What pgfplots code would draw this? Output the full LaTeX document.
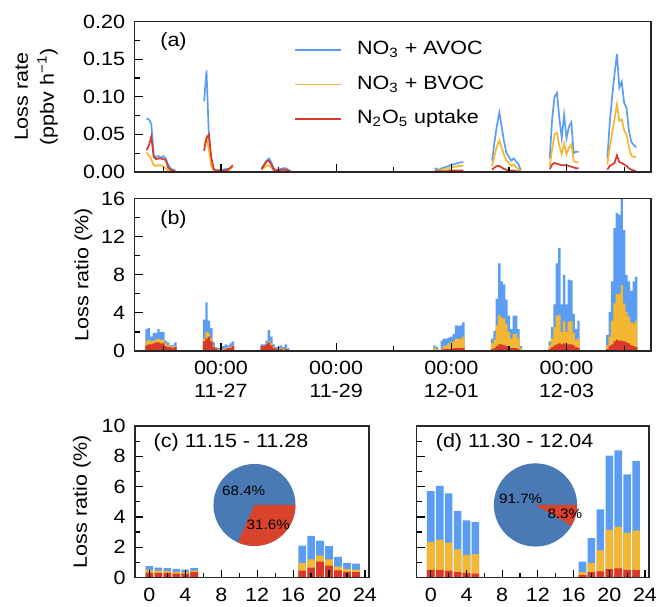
\documentclass[border=0pt]{standalone}
\usepackage{fontspec}
\setmainfont{Liberation Sans}[FakeStretch=1.12]
\usepackage{pgfplots}
\usepackage{pgfplotstable}
\pgfplotsset{compat=1.18}
\definecolor{cblue}{HTML}{5B9DF2}
\definecolor{cyell}{HTML}{F4B731}
\definecolor{cred}{HTML}{D8392A}
\definecolor{pblue}{HTML}{4A7AB5}
\definecolor{pred}{HTML}{D9422B}

% (a) loss rates, ppbv/h ; h = hours since 11-25 00:00
\pgfplotstableread{
h blue yellow red
17 0.071 0.026 0.029
18 0.070 0.022 0.035
19 0.064 0.017 0.047
20 0.022 0.009 0.020
21 0.020 0.008 0.017
22 0.021 0.009 0.018
23 0.019 0.009 0.018
24 0.021 0.007 0.017
25 0.018 0.005 0.016
26 0.010 0.002 0.006
27 0.005 0.001 0.003
28 0.003 0.001 0.002
29 0.002 0.001 0.001
nan nan nan nan
41 0.094 0.035 0.028
42 0.135 0.045 0.045
43 0.045 0.030 0.050
44 0.010 0.008 0.020
45 0.004 0.002 0.004
46 0.002 0.001 0.002
47 0.002 0.001 0.002
48 0.003 0.001 0.002
49 0.003 0.001 0.002
50 0.004 0.002 0.002
51 0.004 0.002 0.003
52 0.005 0.004 0.006
53 0.007 0.008 0.009
nan nan nan nan
65 0.005 0.003 0.004
66 0.010 0.006 0.009
67 0.015 0.008 0.014
68 0.018 0.009 0.015
69 0.013 0.006 0.010
70 0.005 0.002 0.003
71 0.003 0.001 0.002
72 0.003 0.001 0.002
73 0.004 0.001 0.003
74 0.005 0.001 0.003
75 0.005 0.001 0.003
76 0.003 0.001 0.002
77 0.001 0.000 0.001
nan nan nan nan
137 0.005 0.002 0.001
138 0.004 0.002 0.001
139 0.003 0.002 0.001
140 0.005 0.003 0.001
141 0.006 0.004 0.001
142 0.007 0.005 0.001
143 0.008 0.005 0.002
144 0.010 0.006 0.002
145 0.010 0.007 0.002
146 0.011 0.007 0.002
147 0.012 0.008 0.002
148 0.013 0.008 0.002
149 0.013 0.009 0.002
nan nan nan nan
161 0.015 0.008 0.003
162 0.040 0.022 0.006
163 0.062 0.034 0.008
164 0.079 0.042 0.008
165 0.060 0.032 0.006
166 0.040 0.022 0.004
167 0.025 0.015 0.003
168 0.020 0.012 0.002
169 0.015 0.008 0.002
170 0.018 0.010 0.002
171 0.014 0.006 0.001
172 0.010 0.004 0.001
173 0.002 0.001 0.000
nan nan nan nan
185 0.018 0.008 0.004
186 0.070 0.030 0.010
187 0.100 0.050 0.012
188 0.105 0.052 0.011
189 0.072 0.035 0.010
190 0.045 0.024 0.009
191 0.076 0.038 0.009
192 0.045 0.024 0.009
193 0.060 0.032 0.008
194 0.066 0.037 0.007
195 0.025 0.015 0.006
196 0.027 0.013 0.005
197 0.027 0.013 0.005
nan nan nan nan
209 0.018 0.010 0.003
210 0.065 0.032 0.008
211 0.100 0.052 0.010
212 0.130 0.070 0.012
213 0.157 0.090 0.022
214 0.112 0.068 0.013
215 0.120 0.070 0.012
216 0.092 0.055 0.010
217 0.085 0.050 0.008
218 0.055 0.033 0.005
219 0.040 0.022 0.003
220 0.036 0.020 0.002
221 0.033 0.020 0.001
}\ratea

% (b) loss ratio (%), cumulative tops: blue = total, yellow = BVOC+N2O5, red = N2O5
\pgfplotstableread{
h blue yellow red
17 2.3 1.0 0.6
18 2.4 1.2 0.7
19 1.5 1.0 0.7
20 1.9 1.1 0.8
21 1.9 1.2 0.9
22 2.3 1.3 0.9
23 2.0 1.2 0.8
24 2.0 1.2 0.8
25 1.1 0.8 0.5
26 0.9 0.6 0.4
27 0.6 0.5 0.4
28 0.6 0.4 0.3
29 0.9 0.5 0.4
41 3.3 1.3 1.0
42 5.1 2.0 1.3
43 3.2 1.9 1.5
44 2.4 1.3 1.0
45 0.9 0.5 0.4
46 0.4 0.2 0.2
47 0.3 0.2 0.1
48 0.3 0.2 0.1
49 0.5 0.2 0.1
50 0.7 0.3 0.2
51 0.6 0.4 0.3
52 0.8 0.4 0.3
53 1.0 0.6 0.5
65 0.7 0.5 0.5
66 0.7 0.5 0.5
67 1.1 0.8 0.7
68 2.2 1.1 0.9
69 1.5 0.8 0.6
70 0.7 0.4 0.3
71 0.4 0.2 0.2
72 0.4 0.2 0.1
73 0.6 0.3 0.2
74 0.4 0.2 0.1
75 0.7 0.3 0.2
76 0.3 0.1 0.1
77 0.1 0.05 0.02
137 0.6 0.3 0.1
138 0.4 0.2 0.05
139 0.15 0.05 0.02
140 1.1 0.2 0.1
141 1.3 0.5 0.2
142 1.3 0.6 0.2
143 1.4 0.8 0.2
144 1.5 0.9 0.2
145 1.8 1.0 0.3
146 2.7 1.3 0.3
147 2.6 1.3 0.3
148 2.7 1.3 0.3
149 3.0 1.5 0.3
161 1.3 0.8 0.2
162 2.1 1.2 0.3
163 5.5 2.7 0.5
164 9.2 3.8 0.7
165 7.3 3.5 0.7
166 7.0 3.4 0.6
167 5.4 2.8 0.5
168 3.7 2.0 0.4
169 2.3 1.3 0.3
170 3.7 1.8 0.3
171 3.7 1.8 0.3
172 2.3 1.3 0.2
173 0.5 0.3 0.1
185 1.0 0.6 0.2
186 2.5 1.3 0.4
187 4.9 2.5 0.6
188 9.2 3.7 0.7
189 10.8 3.8 0.8
190 4.9 2.0 0.7
191 8.0 3.1 0.8
192 4.9 2.0 0.7
193 7.5 3.1 0.7
194 7.4 3.1 0.7
195 3.9 1.9 0.6
196 2.3 1.2 0.4
197 3.2 1.3 0.3
209 1.7 0.6 0.2
210 4.1 1.5 0.5
211 7.3 3.2 0.7
212 12.9 5.0 1.0
213 14.5 6.0 1.2
214 14.3 6.0 1.1
215 16.0 6.9 1.1
216 12.7 5.0 1.0
217 8.0 4.1 0.9
218 7.3 3.6 0.8
219 6.3 3.0 0.6
220 7.3 2.9 0.5
221 7.8 3.2 0.4
}\ratiob

% (c) 11.15 - 11.28 diurnal loss ratio (%), cumulative tops
\pgfplotstableread{
h blue yellow red
0 0.75 0.50 0.33
1 0.65 0.45 0.30
2 0.62 0.42 0.30
3 0.57 0.38 0.25
4 0.52 0.35 0.25
5 0.62 0.45 0.35
17 2.10 0.95 0.46
18 2.75 1.20 0.65
19 2.44 1.45 1.05
20 2.08 1.20 0.78
21 1.37 0.72 0.47
22 0.97 0.57 0.37
23 0.92 0.52 0.35
}\diurc

% (d) 11.30 - 12.04 diurnal loss ratio (%), cumulative tops
\pgfplotstableread{
h blue yellow red
0 5.70 2.35 0.50
1 6.05 2.50 0.50
2 5.55 2.30 0.45
3 4.40 1.85 0.35
4 3.78 1.50 0.30
5 3.65 1.55 0.25
17 1.05 0.35 0.15
18 2.60 0.95 0.35
19 4.50 1.80 0.40
20 8.05 3.15 0.55
21 8.40 3.35 0.60
22 6.80 2.95 0.50
23 7.70 3.10 0.50
}\diurd

\pgfplotsset{
  myax/.style={
    scale only axis,
    anchor=north west,
    axis line style={black!85, line width=0.6pt},
    every tick/.style={black, line width=0.6pt},
    tick align=inside,
    major tick length=4pt,
    minor tick length=2.5pt,
    xtick pos=lower, ytick pos=left,
    ymin=0,
    axis on top,
    /pgf/number format/assume math mode=true,
    yticklabel style={inner sep=0pt, xshift=-4.5pt},
    xticklabel style={inner sep=0pt, yshift=-5pt},
    every axis y label/.style={rotate=90, anchor=center},
  },
  timeax/.style={myax, width=258.25pt, xmin=12, xmax=227.2,
    xtick={48,96,144,192}, minor xtick={24,72,120,168,216}},
  diurax/.style={myax, height=75.75pt, xmin=-1.6, xmax=24.45, ymax=10,
    xtick={0,4,...,24}, minor xtick={2,6,...,22},
    ytick={0,2,...,10}, minor ytick={1,3,...,9}},
  barb/.style={ybar, bar width=1, bar shift=0pt, draw=none},
  barc/.style={ybar, bar width=0.85, bar shift=0pt, draw=none},
}

\begin{document}
\fontsize{9.6}{11}\selectfont
\begin{tikzpicture}
\useasboundingbox (0,0) rectangle (328pt,-303pt);

% ---------- (a) ----------
\begin{axis}[timeax, at={(67.25pt,-10.75pt)}, height=75.25pt,
  ymax=0.2, ytick={0,0.05,0.1,0.15,0.2}, minor ytick={0.025,0.075,0.125,0.175},
  yticklabel style={/pgf/number format/.cd, fixed, fixed zerofill, precision=2},
  xticklabels={},
  unbounded coords=jump,
  ylabel={Loss rate\\[2pt](ppbv h\textsuperscript{−1})},
  ylabel style={align=center, at={(axis description cs:-0.19,0.5)}},
  legend style={at={(0.309,0.892)}, anchor=north west, draw=none, fill=none,
    inner sep=0pt, row sep=5.7pt,
    nodes={inner sep=1pt, text height=0.75em, text depth=0.25em},
    /tikz/every odd column/.append style={column sep=6.5pt}},
  legend cell align=left,
  legend image code/.code={\draw[#1] (0pt,0pt) -- (23pt,0pt);},
]
\addplot[cblue, line width=0.85pt] table[x=h, y=blue] {\ratea};
\addlegendentry{NO\textsubscript{3} + AVOC}
\addplot[cyell, line width=0.85pt] table[x=h, y=yellow] {\ratea};
\addlegendentry{NO\textsubscript{3} + BVOC}
\addplot[cred, line width=0.85pt] table[x=h, y=red] {\ratea};
\addlegendentry{N\textsubscript{2}O\textsubscript{5} uptake}
\node at (axis description cs:0.0755,0.864) {(a)};
\end{axis}

% ---------- (b) ----------
\begin{axis}[timeax, at={(67.25pt,-99.25pt)}, height=76.25pt,
  ymax=16, ytick={0,4,...,16}, minor ytick={2,6,10,14},
  xticklabels={{00:00\\[1pt]11-27},{00:00\\[1pt]11-29},{00:00\\[1pt]12-01},{00:00\\[1pt]12-03}},
  xticklabel style={align=center, font=\fontsize{9.6}{10.5}\selectfont},
  ylabel={Loss ratio (\%)},
  ylabel style={at={(axis description cs:-0.0987,0.5)}},
]
\addplot[barb, fill=cblue] table[x=h, y=blue] {\ratiob};
\addplot[barb, fill=cyell] table[x=h, y=yellow] {\ratiob};
\addplot[barb, fill=cred] table[x=h, y=red] {\ratiob};
\node at (axis description cs:0.0755,0.864) {(b)};
\end{axis}

% ---------- (c) ----------
\begin{axis}[diurax, at={(67.5pt,-213pt)}, width=117pt,
  ylabel={Loss ratio (\%)},
  ylabel style={at={(axis description cs:-0.2265,0.5)}},
]
\addplot[barc, fill=cblue] table[x=h, y=blue] {\diurc};
\addplot[barc, fill=cyell] table[x=h, y=yellow] {\diurc};
\addplot[barc, fill=cred] table[x=h, y=red] {\diurc};
\fill[pblue] (axis cs:11.7,4.79) circle[radius=20.5pt];
\fill[pred] (axis cs:11.7,4.79) -- ++(0:20.5pt) arc[start angle=0, end angle={-3.6*31.6}, radius=20.5pt] -- cycle;
\node[font=\fontsize{6.8}{8}\selectfont, xshift=-5.4pt, yshift=7.2pt] at (axis cs:11.7,4.79) {68.4\%};
\node[font=\fontsize{6.8}{8}\selectfont, xshift=6.9pt, yshift=-10pt] at (axis cs:11.7,4.79) {31.6\%};
\node[anchor=west] at (axis description cs:0.051,0.888) {(c) 11.15 - 11.28};
\end{axis}

% ---------- (d) ----------
\begin{axis}[diurax, at={(208.25pt,-213pt)}, width=116.25pt,
  yticklabels={},
]
\addplot[barc, fill=cblue] table[x=h, y=blue] {\diurd};
\addplot[barc, fill=cyell] table[x=h, y=yellow] {\diurd};
\addplot[barc, fill=cred] table[x=h, y=red] {\diurd};
\fill[pblue] (axis cs:11.73,4.79) circle[radius=20.8pt];
\fill[pred] (axis cs:11.73,4.79) -- ++(0:20.8pt) arc[start angle=0, end angle={-3.6*8.3}, radius=20.8pt] -- cycle;
\node[font=\fontsize{6.8}{8}\selectfont, xshift=-7.4pt, yshift=3.3pt] at (axis cs:11.73,4.79) {91.7\%};
\node[font=\fontsize{6.8}{8}\selectfont, xshift=14.7pt, yshift=-4.2pt] at (axis cs:11.73,4.79) {8.3\%};
\node[anchor=west] at (axis description cs:0.054,0.888) {(d) 11.30 - 12.04};
\end{axis}
\end{tikzpicture}
\end{document}
